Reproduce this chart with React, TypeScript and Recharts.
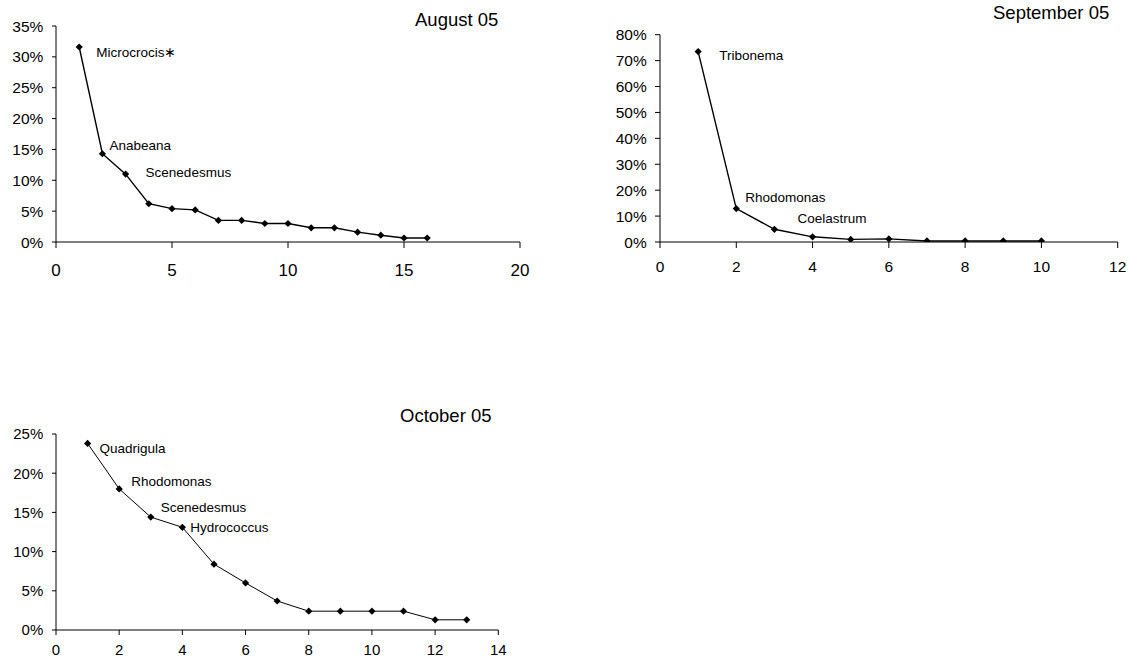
import { LabelList, Line, LineChart, XAxis, YAxis } from "recharts";

const FONT = '"Liberation Sans", Arial, sans-serif';

// August 05 — share of total per taxon, ranked
const augRanks = [1, 2, 3, 4, 5, 6, 7, 8, 9, 10, 11, 12, 13, 14, 15, 16];
const augShares = [31.6, 14.3, 11.0, 6.2, 5.4, 5.2, 3.5, 3.5, 3.0, 3.0, 2.3, 2.3, 1.6, 1.1, 0.65, 0.65];
const augNames = ["Microcrocis\u2217", "Anabeana", "Scenedesmus"];
const augXTicks = [0, 5, 10, 15, 20];
const augYTicks = [0, 5, 10, 15, 20, 25, 30, 35];

// September 05
const sepRanks = [1, 2, 3, 4, 5, 6, 7, 8, 9, 10];
const sepShares = [73.5, 12.9, 4.9, 2.0, 1.0, 1.2, 0.4, 0.4, 0.4, 0.4];
const sepNames = ["Tribonema", "Rhodomonas", "Coelastrum"];
const sepXTicks = [0, 2, 4, 6, 8, 10, 12];
const sepYTicks = [0, 10, 20, 30, 40, 50, 60, 70, 80];

// October 05
const octRanks = [1, 2, 3, 4, 5, 6, 7, 8, 9, 10, 11, 12, 13];
const octShares = [23.8, 18.0, 14.4, 13.1, 8.4, 6.0, 3.7, 2.4, 2.4, 2.4, 2.4, 1.3, 1.3];
const octNames = ["Quadrigula", "Rhodomonas", "Scenedesmus", "Hydrococcus"];
const octXTicks = [0, 2, 4, 6, 8, 10, 12, 14];
const octYTicks = [0, 5, 10, 15, 20, 25];

type Row = { rank: number; share: number; name: string };

const toRows = (ranks: number[], shares: number[], names: string[]): Row[] =>
  ranks.map((rank, i) => ({ rank, share: shares[i], name: names[i] ?? "" }));

type Panel = {
  title: string;
  rows: Row[];
  xTicks: number[];
  yTicks: number[];
  box: { left: number; top: number; width: number; height: number };
  margin: { top: number; right: number; bottom: number; left: number };
  yAxisWidth: number;
  xAxisHeight: number;
  xFont: number;
  yFont: number;
  xTickSize: number;
  xTickMargin: number;
  yTickSize: number;
  yTickMargin: number;
  strokeWidth: number;
  titleAt: { left: number; top: number };
  // label offsets from the point, in px
  labelOffsets: [number, number][];
};

const panels: Panel[] = [
  {
    title: "August 05",
    rows: toRows(augRanks, augShares, augNames),
    xTicks: augXTicks,
    yTicks: augYTicks,
    box: { left: 0, top: 0, width: 560, height: 290 },
    margin: { top: 26, right: 40, bottom: 18, left: 0 },
    yAxisWidth: 56,
    xAxisHeight: 30,
    xFont: 17,
    yFont: 15.5,
    xTickSize: 6,
    xTickMargin: 16,
    yTickSize: 4,
    yTickMargin: 8.7,
    strokeWidth: 1.4,
    titleAt: { left: 415, top: 11 },
    labelOffsets: [[17, 5], [7, -9], [20, -2]],
  },
  {
    title: "September 05",
    rows: toRows(sepRanks, sepShares, sepNames),
    xTicks: sepXTicks,
    yTicks: sepYTicks,
    box: { left: 600, top: 0, width: 530, height: 290 },
    margin: { top: 34.7, right: 12.3, bottom: 18, left: 0 },
    yAxisWidth: 60,
    xAxisHeight: 30,
    xFont: 15.5,
    yFont: 15.5,
    xTickSize: 6,
    xTickMargin: 12.5,
    yTickSize: 5,
    yTickMargin: 8.3,
    strokeWidth: 1.4,
    titleAt: { left: 993, top: 4 },
    labelOffsets: [[21, 4], [9, -11], [23, -11]],
  },
  {
    title: "October 05",
    rows: toRows(octRanks, octShares, octNames),
    xTicks: octXTicks,
    yTicks: octYTicks,
    box: { left: 0, top: 380, width: 530, height: 280 },
    margin: { top: 54, right: 31.7, bottom: 0, left: 0 },
    yAxisWidth: 56,
    xAxisHeight: 30,
    xFont: 15,
    yFont: 15,
    xTickSize: 5,
    xTickMargin: 9.7,
    yTickSize: 4,
    yTickMargin: 8.7,
    strokeWidth: 1,
    titleAt: { left: 400, top: 407 },
    labelOffsets: [[12, 5], [12, -8], [10, -10], [8, 0]],
  },
];

const LABEL_FONT = 13.5;
const TITLE_FONT = 18.5;

function Diamond(props: any) {
  const { cx, cy } = props;
  if (cx == null || cy == null) return null;
  const r = 3.6;
  return (
    <polygon
      points={`${cx},${cy - r} ${cx + r},${cy} ${cx},${cy + r} ${cx - r},${cy}`}
      fill="#000"
      stroke="none"
    />
  );
}

function RankChart({ p }: { p: Panel }) {
  const renderLabel = (props: any) => {
    const { x, y, value, index } = props;
    if (!value) return null;
    const [dx, dy] = p.labelOffsets[index] ?? [10, 0];
    return (
      <text
        x={x + dx}
        y={y + dy + LABEL_FONT * 0.36}
        fontSize={LABEL_FONT}
        fontFamily={FONT}
        fill="#000"
        textAnchor="start"
      >
        {value}
      </text>
    );
  };

  return (
    <div style={{ position: "absolute", ...p.box }}>
      <LineChart width={p.box.width} height={p.box.height} data={p.rows} margin={p.margin}>
        <XAxis
          type="number"
          dataKey="rank"
          domain={[0, p.xTicks[p.xTicks.length - 1]]}
          ticks={p.xTicks}
          interval={0}
          height={p.xAxisHeight}
          stroke="#000"
          tickSize={p.xTickSize}
          tickMargin={p.xTickMargin}
          tick={{ fill: "#000", fontSize: p.xFont, fontFamily: FONT }}
          allowDataOverflow
        />
        <YAxis
          type="number"
          domain={[0, p.yTicks[p.yTicks.length - 1]]}
          ticks={p.yTicks}
          interval={0}
          width={p.yAxisWidth}
          stroke="#000"
          tickSize={p.yTickSize}
          tickMargin={p.yTickMargin}
          tick={{ fill: "#000", fontSize: p.yFont, fontFamily: FONT }}
          tickFormatter={(v: number) => `${v}%`}
          allowDataOverflow
        />
        <Line
          type="linear"
          dataKey="share"
          stroke="#000"
          strokeWidth={p.strokeWidth}
          dot={<Diamond />}
          activeDot={false}
          isAnimationActive={false}
        >
          <LabelList dataKey="name" content={renderLabel} />
        </Line>
      </LineChart>
    </div>
  );
}

export default function App() {
  return (
    <div
      style={{
        position: "absolute",
        left: 0,
        top: 0,
        width: 1130,
        height: 660,
        background: "#fff",
        overflow: "hidden",
      }}
    >
      {panels.map((p) => (
        <RankChart key={p.title} p={p} />
      ))}
      {panels.map((p) => (
        <div
          key={p.title + "-title"}
          style={{
            position: "absolute",
            left: p.titleAt.left,
            top: p.titleAt.top,
            fontFamily: FONT,
            fontSize: TITLE_FONT,
            lineHeight: `${TITLE_FONT}px`,
            whiteSpace: "nowrap",
            color: "#000",
          }}
        >
          {p.title}
        </div>
      ))}
    </div>
  );
}
